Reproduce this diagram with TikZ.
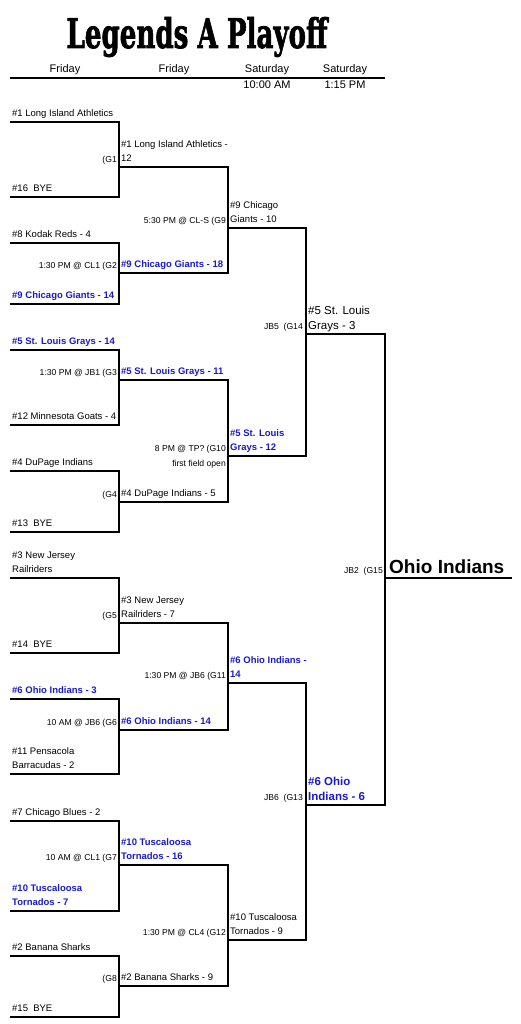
\documentclass[tikz,border=0pt]{standalone}
\usepackage{fontspec}
\setmainfont{Liberation Sans}
\newfontfamily\titlefont{DejaVu Serif}[FakeBold=2]
\usetikzlibrary{positioning}
\definecolor{winblue}{RGB}{25,25,205}

\tikzset{
  bracket/.style={line width=1.8pt, line join=miter},
  team/.style={anchor=south west, inner sep=0pt, align=left,
    font=\fontsize{9.5}{14}\selectfont, execute at end node=\strut},
  winner/.style={team, text=winblue, font=\fontsize{9.5}{14}\selectfont\bfseries},
  bigteam/.style={team, font=\fontsize{11.5}{15}\selectfont},
  bigwinner/.style={team, text=winblue, font=\fontsize{11.5}{15}\selectfont\bfseries},
  game/.style={anchor=south east, inner sep=0pt, align=right,
    font=\fontsize{8.6}{15}\selectfont, execute at end node=\strut},
  day/.style={anchor=base, inner sep=0pt, font=\fontsize{11}{13}\selectfont},
}

\begin{document}
\begin{tikzpicture}[x=1pt,y=-1pt]
      \useasboundingbox (0,0) rectangle (520,1024);

      % title and header
      \node[anchor=base, inner sep=0pt] (title) at (197,48)
        {\resizebox{261pt}{31pt}{\titlefont\bfseries Legends A Playoff}};
      \node[day] (day1) at (65,73) {Friday};
      \node[day] (day2) at (174,73) {Friday};
      \node[day] (day3) at (267,73) {Saturday};
      \node[day] (day4) at (345,73) {Saturday};
      \node[day] (time3) at (267,89) {10:00 AM};
      \node[day] (time4) at (345,89) {1:15 PM};
      \coordinate (hl) at (10,78);
      \coordinate (hr) at (385,78);
      \draw[line width=1.5pt] (hl) -- (hr);

      % slot coordinates, round by round
      \foreach \y [count=\i] in {122,197,243,304,350,425,471,532,578,653,699,774,821,911,956,1017}
        {\coordinate (a\i) at (10,\y); \coordinate (b\i) at (119,\y);}
      \foreach \y [count=\i] in {167,273,380,502,623,730,865,986}
        {\coordinate (c\i) at (119,\y); \coordinate (d\i) at (228,\y);}
      \foreach \y [count=\i] in {228,456,683,940}
        {\coordinate (e\i) at (228,\y); \coordinate (f\i) at (306,\y);}
      \foreach \y [count=\i] in {334,805}
        {\coordinate (p\i) at (306,\y); \coordinate (q\i) at (385,\y);}
      \coordinate (k1) at (385,578);
      \coordinate (k2) at (512,578);

      % bracket lines
      \foreach \j/\k in {1/2,3/4,5/6,7/8,9/10,11/12,13/14,15/16}
        \draw[bracket] (a\j) -- (b\j) -- (b\k) -- (a\k);
      \foreach \j/\k in {1/2,3/4,5/6,7/8}
        \draw[bracket] (c\j) -- (d\j) -- (d\k) -- (c\k);
      \foreach \j/\k in {1/2,3/4}
        \draw[bracket] (e\j) -- (f\j) -- (f\k) -- (e\k);
      \draw[bracket] (p1) -- (q1) -- (q2) -- (p2);
      \draw[bracket] (k1) -- (k2);

      % first round teams
      \foreach \i/\st/\txt in {1/team/{\#1 Long Island Athletics}, 2/team/{\#16\ \ BYE},
          3/team/{\#8 Kodak Reds - 4}, 4/winner/{\#9 Chicago Giants - 14},
          5/winner/{\#5 St. Louis Grays - 14}, 6/team/{\#12 Minnesota Goats - 4},
          7/team/{\#4 DuPage Indians}, 8/team/{\#13\ \ BYE},
          9/team/{\#3 New Jersey\\Railriders}, 10/team/{\#14\ \ BYE},
          11/winner/{\#6 Ohio Indians - 3}, 12/team/{\#11 Pensacola\\Barracudas - 2},
          13/team/{\#7 Chicago Blues - 2}, 14/winner/{\#10 Tuscaloosa\\Tornados - 7},
          15/team/{\#2 Banana Sharks}, 16/team/{\#15\ \ BYE}}
        \node[\st, above right=1pt and 2pt of a\i] (tm\i) {\txt};

      % second round
      \foreach \i/\st/\txt in {1/team/{\#1 Long Island Athletics -\\12},
          2/winner/{\#9 Chicago Giants - 18}, 3/winner/{\#5 St. Louis Grays - 11},
          4/team/{\#4 DuPage Indians - 5}, 5/team/{\#3 New Jersey\\Railriders - 7},
          6/winner/{\#6 Ohio Indians - 14}, 7/winner/{\#10 Tuscaloosa\\Tornados - 16},
          8/team/{\#2 Banana Sharks - 9}}
        \node[\st, above right=1pt and 2pt of c\i] (ra\i) {\txt};

      % quarter finals
      \foreach \i/\st/\txt in {1/team/{\#9 Chicago\\Giants - 10},
          2/winner/{\#5 St. Louis\\Grays - 12}, 3/winner/{\#6 Ohio Indians -\\14},
          4/team/{\#10 Tuscaloosa\\Tornados - 9}}
        \node[\st, above right=1pt and 2pt of e\i] (rb\i) {\txt};

      % semi finals and champion
      \node[bigteam, above right=0pt and 2pt of p1] (rc1) {\#5 St. Louis\\Grays - 3};
      \node[bigwinner, above right=0pt and 2pt of p2] (rc2) {\#6 Ohio\\Indians - 6};
      \node[anchor=base west, inner sep=0pt, font=\fontsize{19}{21}\selectfont\bfseries]
        (champ) at ([xshift=4pt,yshift=5pt]k1) {Ohio Indians};

      % game labels
      \foreach \i/\txt in {1/{(G1}, 2/{1:30 PM @ CL1 (G2}, 3/{1:30 PM @ JB1 (G3}, 4/{(G4},
          5/{(G5}, 6/{10 AM @ JB6 (G6}, 7/{10 AM @ CL1 (G7}, 8/{(G8}}
        \node[game] (gm\i) at ([xshift=-2pt]c\i) {\txt};
      \node[game] (gm9) at ([xshift=-2pt]e1) {5:30 PM @ CL-S (G9};
      \node[game] (gm10) at ([xshift=-2pt,yshift=-15.2pt]e2) {8 PM @ TP? (G10\\first field open};
      \node[game] (gm11) at ([xshift=-2pt]e3) {1:30 PM @ JB6 (G11};
      \node[game] (gm12) at ([xshift=-2pt]e4) {1:30 PM @ CL4 (G12};
      \node[game] (gm14) at ([xshift=-3pt]p1) {JB5\ \ (G14};
      \node[game] (gm13) at ([xshift=-3pt]p2) {JB6\ \ (G13};
      \node[game] (gm15) at ([xshift=-2pt]k1) {JB2\ \ (G15};
\end{tikzpicture}
\end{document}
